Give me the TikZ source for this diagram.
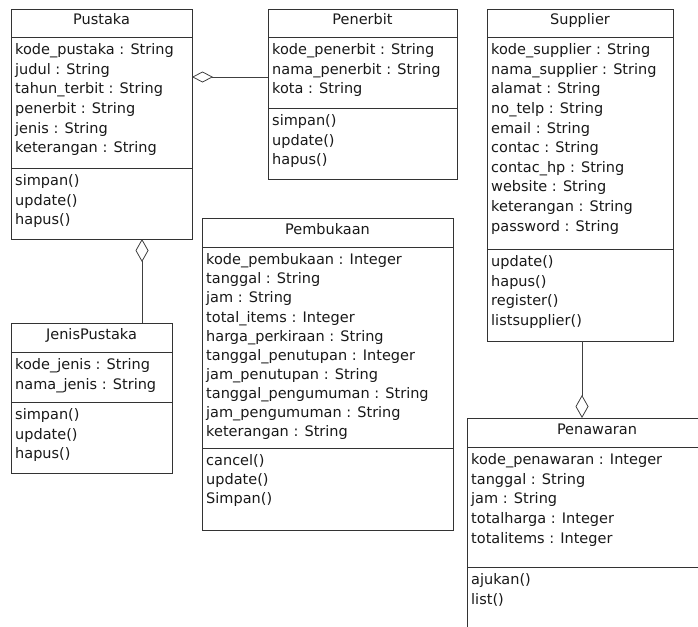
\documentclass[tikz,border=0pt]{standalone}
\usepackage{fontspec}
\newfontfamily\umlfont{DejaVu Sans}
\usetikzlibrary{arrows.meta,calc}

\def\memberskip{19.6}
\tikzset{
	classbox/.style={draw=black!80, line width=0.9pt, fill=white, anchor=north west, inner sep=0pt, outer sep=0pt},
	classline/.style={draw=black!80, line width=0.9pt},
	classtitle/.style={anchor=base, inner sep=0pt, text=black!90, font=\umlfont\fontsize{14.5}{20}\selectfont},
	members/.style={anchor=north west, align=left, inner sep=0pt, text=black!90, font=\umlfont\fontsize{14.5}{\memberskip}\selectfont},
	aggr/.style 2 args={{Diamond[open,length=#1,width=#2]}-, draw=black!75, line width=0.8pt}
}

% \umlclass{name}{x,y}{width}{height}{title rule}{attribute rule}{title}{attributes}{operations}
\newcommand{\umlclass}[9]{%
	\node[classbox, minimum width=#3pt, minimum height=#4pt] (#1) at (#2) {};
	\draw[classline] ([yshift=-#5pt]#1.north west) -- ([yshift=-#5pt]#1.north east);
	\draw[classline] ([yshift=-#6pt]#1.north west) -- ([yshift=-#6pt]#1.north east);
	\node[classtitle] (#1-title) at ([yshift=-16pt]#1.north) {#7};
	\node[members] (#1-attr) at ([xshift=4pt,yshift=-#5pt-6.5pt]#1.north west) {#8};
	\node[members] (#1-ops) at ([xshift=4pt,yshift=-#6pt-6.5pt]#1.north west) {#9};
}

\begin{document}
\begin{tikzpicture}[x=1pt, y=1pt]
	%%%%% START %%%%%
	\useasboundingbox (0,0) rectangle (698,-626);
	\clip (0,0) rectangle (698,-626);

	\umlclass{pustaka}{11,-9}{181}{230}{28}{159}{Pustaka}
		{kode\_pustaka : String\\judul : String\\tahun\_terbit : String\\penerbit : String\\jenis : String\\keterangan : String}
		{simpan()\\update()\\hapus()}

	\umlclass{penerbit}{268,-9}{189}{170}{28}{99}{Penerbit}
		{kode\_penerbit : String\\nama\_penerbit : String\\kota : String}
		{simpan()\\update()\\hapus()}

	\umlclass{supplier}{487,-9}{186}{332}{28}{240}{Supplier}
		{kode\_supplier : String\\nama\_supplier : String\\alamat : String\\no\_telp : String\\email : String\\contac : String\\contac\_hp : String\\website : String\\keterangan : String\\password : String}
		{update()\\hapus()\\register()\\listsupplier()}

	\def\memberskip{19.1}
	\umlclass{pembukaan}{202,-218}{251}{312}{29}{230}{Pembukaan}
		{kode\_pembukaan : Integer\\tanggal : String\\jam : String\\total\_items : Integer\\harga\_perkiraan : String\\tanggal\_penutupan : Integer\\jam\_penutupan : String\\tanggal\_pengumuman : String\\jam\_pengumuman : String\\keterangan : String}
		{cancel()\\update()\\Simpan()}
	\def\memberskip{19.6}

	\umlclass{jenis}{11,-323}{161}{150}{29}{79}{JenisPustaka}
		{kode\_jenis : String\\nama\_jenis : String}
		{simpan()\\update()\\hapus()}

	\umlclass{penawaran}{467,-418}{260}{230}{29}{149}{Penawaran}
		{kode\_penawaran : Integer\\tanggal : String\\jam : String\\totalharga : Integer\\totalitems : Integer}
		{ajukan()\\list()}

	% aggregations
	\path ([yshift=-68pt]pustaka.north east) coordinate (pustaka-r);
	\draw[aggr={21pt}{11pt}] (pustaka-r) -- (pustaka-r -| penerbit.west);

	\path ([xshift=131pt]pustaka.south west) coordinate (pustaka-b);
	\draw[aggr={23pt}{13pt}] (pustaka-b) -- (pustaka-b |- jenis.north);

	\path ([xshift=115pt]penawaran.north west) coordinate (penawaran-t);
	\draw[aggr={23pt}{13pt}] (penawaran-t) -- (penawaran-t |- supplier.south);
	%%%%% END %%%%%
\end{tikzpicture}
\end{document}
